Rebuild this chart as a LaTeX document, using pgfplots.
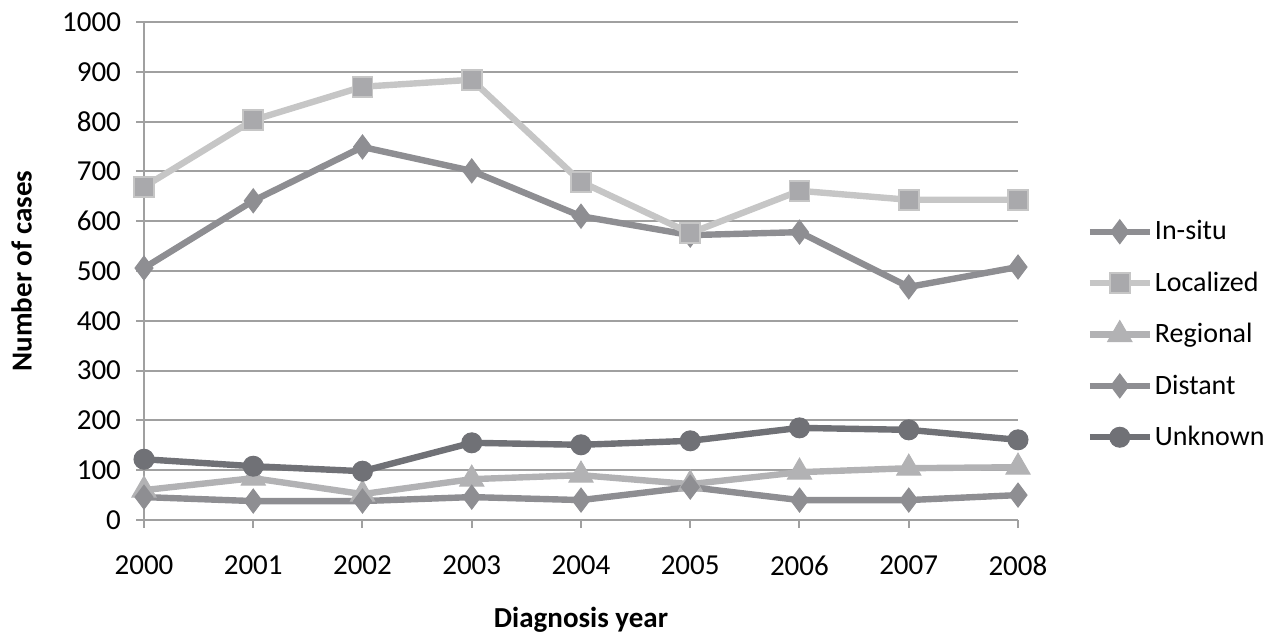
\documentclass[border=0pt]{standalone}
\usepackage{fontspec}
\setmainfont{Carlito}
\usepackage{pgfplots}
\pgfplotsset{compat=1.18}
\definecolor{insitu}{HTML}{8E8E92}
\definecolor{locline}{HTML}{C6C6C6}
\definecolor{locmark}{HTML}{A9A9AC}
\definecolor{regional}{HTML}{B2B2B4}
\definecolor{distant}{HTML}{8E8E92}
\definecolor{unknown}{HTML}{707176}
\definecolor{gridc}{HTML}{A0A0A0}
\begin{document}
\begin{tikzpicture}
\path[use as bounding box] (-72pt,-58pt) rectangle (561.5pt,260pt);
\begin{axis}[
  at={(0,0)}, anchor=south west,
  scale only axis, width=437pt, height=249pt,
  xmin=2000, xmax=2008, ymin=0, ymax=1000,
  xtick={2000,...,2008}, ytick={0,100,...,1000},
  /pgf/number format/1000 sep={},
  xticklabel style={yshift=-10.5pt},
  yticklabel style={xshift=-4pt},
  /pgf/number format/assume math mode=true,
  axis x line=bottom, axis y line=left,
  axis line style={-, gridc, line width=1pt},
  tick style={gridc, line width=1pt},
  tick align=outside, major tick length=4pt,
  ymajorgrids, grid style={gridc, line width=1pt},
  font=\fontsize{14.5}{17}\selectfont,
  xlabel={\bfseries Diagnosis year}, ylabel={\bfseries Number of cases},
  xlabel style={at={(axis description cs:0.5,-0.2)}, anchor=center},
  ylabel style={at={(axis description cs:-0.14,0.5)}, anchor=center, rotate=0},
  legend style={draw=none, fill=none, at={(1.078,0.61)}, anchor=north west,
    inner sep=0pt, row sep=10.5pt, font=\fontsize{14}{17}\selectfont,
    legend cell align=left, nodes={inner xsep=1pt}},
  legend image code/.code={\draw[#1,mark repeat=2,mark phase=2] plot coordinates {(0pt,0pt) (15pt,0pt) (30pt,0pt)};},
  every axis plot/.append style={line width=3.2pt},
]
\addplot[insitu, mark=diamond*, mark size=6pt, mark options={line width=0.5pt}] coordinates {
(2000,506) (2001,641) (2002,749) (2003,701) (2004,610) (2005,572) (2006,578) (2007,468) (2008,508)};
\addlegendentry{In-situ}
\addplot[locline, mark=square*, mark size=5pt, mark options={fill=locmark, draw=locline, line width=0.8pt}] coordinates {
(2000,669) (2001,803) (2002,870) (2003,884) (2004,679) (2005,576) (2006,661) (2007,643) (2008,643)};
\addlegendentry{Localized}
\addplot[regional, mark=triangle*, mark size=7pt, mark options={line width=0.5pt}] coordinates {
(2000,60) (2001,84) (2002,52) (2003,82) (2004,90) (2005,72) (2006,96) (2007,104) (2008,106)};
\addlegendentry{Regional}
\addplot[distant, mark=diamond*, mark size=6pt, mark options={line width=0.5pt}] coordinates {
(2000,46) (2001,38) (2002,38) (2003,46) (2004,40) (2005,66) (2006,40) (2007,40) (2008,50)};
\addlegendentry{Distant}
\addplot[unknown, mark=*, mark size=5pt, mark options={line width=0.5pt}] coordinates {
(2000,122) (2001,108) (2002,98) (2003,155) (2004,151) (2005,159) (2006,185) (2007,181) (2008,161)};
\addlegendentry{Unknown}
\end{axis}
\end{tikzpicture}
\end{document}
